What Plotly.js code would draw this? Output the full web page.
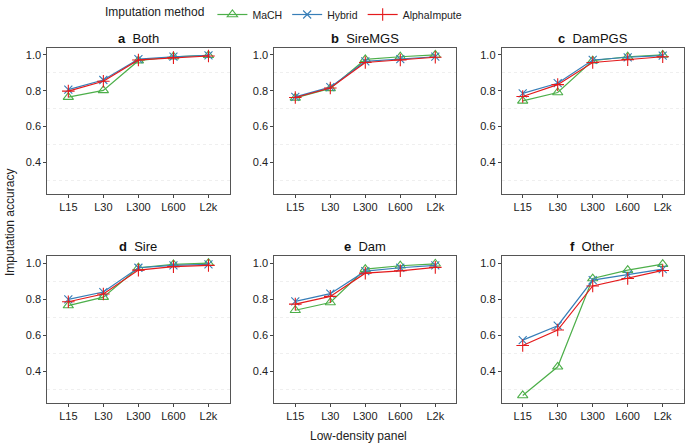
<!DOCTYPE html>
<html><head><meta charset="utf-8">
<script src="https://cdn.plot.ly/plotly-3.0.1.min.js"></script>
<style>html,body{margin:0;padding:0;background:#fff}#chart{width:685px;height:444px}</style>
</head><body><div id="chart"></div>
<script>
const categories = ["L15","L30","L300","L600","L2k"];
const panelLetters = ["a","b","c","d","e","f"];
const panelNames = ["Both","SireMGS","DamPGS","Sire","Dam","Other"];
const methods = ["MaCH","Hybrid","AlphaImpute"];
// values per panel (a..f)
const mach = [
  [0.764,0.802,0.968,0.990,0.998],
  [0.760,0.813,0.975,0.990,1.000],
  [0.743,0.790,0.968,0.990,1.000],
  [0.764,0.811,0.974,0.993,1.000],
  [0.738,0.781,0.966,0.985,0.996],
  [0.265,0.424,0.914,0.961,0.994]
];
const hybrid = [
  [0.806,0.860,0.977,0.990,0.998],
  [0.766,0.820,0.964,0.977,0.990],
  [0.785,0.842,0.972,0.987,0.996],
  [0.798,0.839,0.974,0.987,0.993],
  [0.787,0.830,0.955,0.974,0.987],
  [0.572,0.652,0.905,0.936,0.966]
];
const alpha = [
  [0.798,0.853,0.972,0.985,0.994],
  [0.762,0.815,0.958,0.972,0.987],
  [0.768,0.834,0.958,0.974,0.990],
  [0.785,0.828,0.961,0.980,0.987],
  [0.772,0.815,0.944,0.957,0.976],
  [0.542,0.628,0.873,0.914,0.959]
];
const yTicks = [0.4,0.6,0.8,1.0];
const yMinor = [0.3,0.5,0.7,0.9];

const W = 685, H = 444;
const colors = {MaCH:"#4DAF4A", Hybrid:"#377EB8", AlphaImpute:"#E41A1C"};
const symbols = {MaCH:"triangle-up-open", Hybrid:"x-thin-open", AlphaImpute:"cross-thin-open"};
const sizes = {MaCH:9, Hybrid:8, AlphaImpute:9};
const seriesData = {MaCH:mach, Hybrid:hybrid, AlphaImpute:alpha};

const xPix = [[47.3,229.5],[274.3,456.3],[501.7,683.7]];
const yPix = [[46,193],[255,403]];

const traces = [];
const layout = {
  width: W, height: H,
  margin:{l:0,r:0,t:0,b:0},
  paper_bgcolor:"#fff", plot_bgcolor:"#fff",
  font:{family:"Liberation Sans, Arial, sans-serif", size:11, color:"#333"},
  showlegend:true,
  legend:{orientation:"h", x:285/W, xanchor:"center", y:1.005, yanchor:"top",
    font:{size:10.5,color:"#222"}, title:{text:"Imputation method", font:{size:12,color:"#222"}, side:"left"},
    tracegroupgap:0},
  annotations:[], shapes:[]
};

for (let p=0; p<6; p++){
  const r = Math.floor(p/3), c = p%3;
  const ax = p===0 ? "" : String(p+1);
  const xa = "xaxis"+ax, ya = "yaxis"+ax;
  layout[xa] = {
    domain:[xPix[c][0]/W, xPix[c][1]/W], anchor:"y"+ax,
    type:"category", categoryorder:"array", categoryarray:categories,
    range:[-0.6,4.6], showgrid:false, zeroline:false,
    showline:true, mirror:true, linecolor:"#555", linewidth:1,
    ticks:"outside", ticklen:3, tickcolor:"#444", tickfont:{size:11,color:"#222"}
  };
  layout[ya] = {
    domain:[1-yPix[r][1]/H, 1-yPix[r][0]/H], anchor:"x"+ax,
    range:[0.222,1.04], tickmode:"array", tickvals:yTicks, ticktext:yTicks.map(v=>v.toFixed(1)),
    showgrid:false, zeroline:false,
    minor:{tickmode:"array", tickvals:yMinor, showgrid:true, gridcolor:"#efefef", griddash:"dot", gridwidth:1, ticks:""},
    showline:true, mirror:true, linecolor:"#555", linewidth:1,
    ticks:"outside", ticklen:3, tickcolor:"#444", tickfont:{size:11,color:"#222"}
  };
  methods.forEach(m=>{
    traces.push({
      type:"scatter", mode:"lines+markers", name:m, legendgroup:m, showlegend:p===0,
      x:categories, y:seriesData[m][p], xaxis:"x"+ax, yaxis:"y"+ax,
      line:{color:colors[m], width:1.2},
      marker:{symbol:symbols[m], size:sizes[m], color:colors[m], line:{color:colors[m], width:1.1}}
    });
  });
  const cx = (xPix[c][0]+xPix[c][1])/2/W;
  layout.annotations.push({
    xref:"paper", yref:"paper", x:cx, y:1-(yPix[r][0]-9)/H, xanchor:"center", yanchor:"middle",
    showarrow:false, text:"<b>"+panelLetters[p]+"</b>  "+panelNames[p],
    font:{size:13,color:"#111"}
  });
}
layout.annotations.push({xref:"paper", yref:"paper", x:358/W, y:1-436/H, xanchor:"center", yanchor:"middle",
  showarrow:false, text:"Low-density panel", font:{size:12,color:"#222"}});
layout.annotations.push({xref:"paper", yref:"paper", x:10/W, y:1-222/H, xanchor:"center", yanchor:"middle",
  showarrow:false, textangle:-90, text:"Imputation accuracy", font:{size:12,color:"#222"}});

Plotly.newPlot("chart", traces, layout, {displayModeBar:false, staticPlot:true});
</script></body></html>
